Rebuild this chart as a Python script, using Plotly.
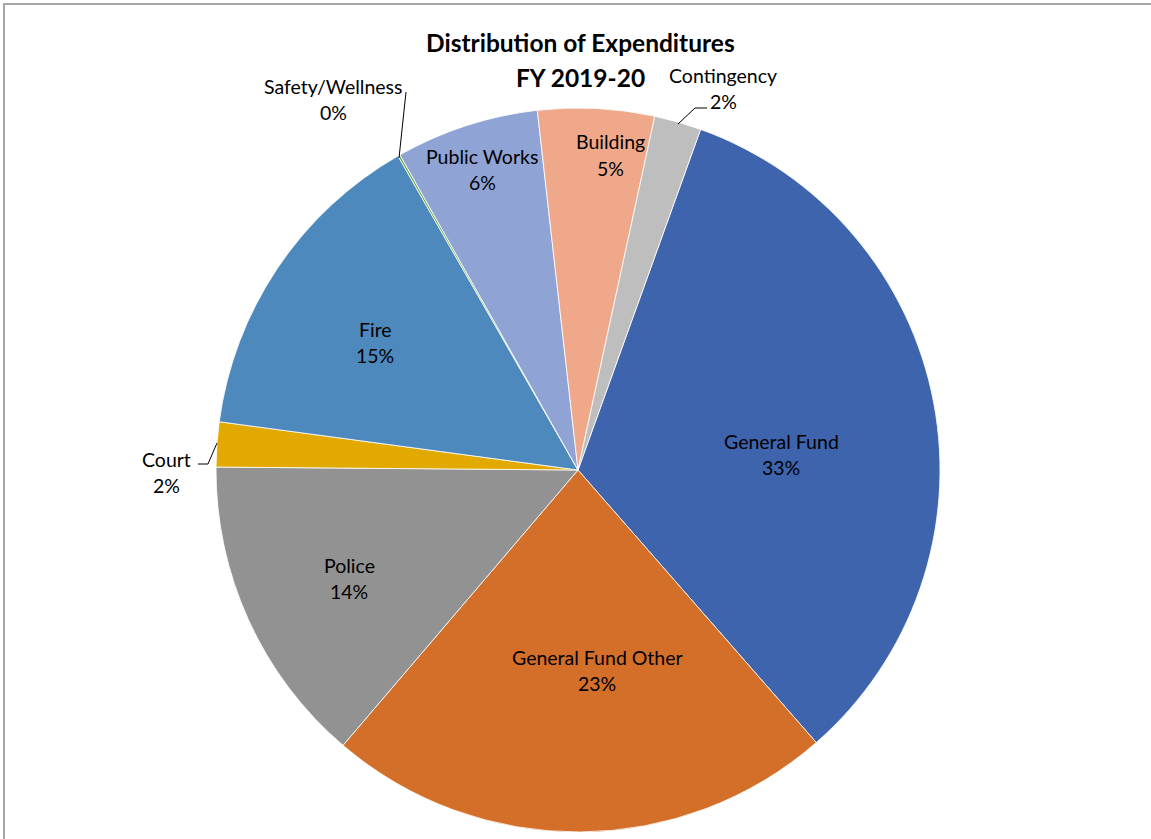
import plotly.graph_objects as go

# ---- data ----
categories = ["General Fund", "General Fund Other", "Police", "Court", "Fire",
              "Safety/Wellness", "Public Works", "Building", "Contingency"]
values = [33.1, 22.7, 13.9, 2.0, 14.6, 0.1, 6.4, 5.2, 2.1]
colors = ["#3D64AD", "#D46F2A", "#929292", "#E2A900", "#4E89BD",
          "#70AD47", "#8FA3D5", "#F0A88A", "#BEBEBE"]
title_lines = ["Distribution of Expenditures", "FY 2019-20"]

W, H = 1151, 839
CX, CY, R = 578, 470, 362  # pie centre/radius in pixels

# label block centres (pixels) for each category, and leader lines for outside labels
label_pos = {
    "General Fund": (781, 454),
    "General Fund Other": (597, 670),
    "Police": (349, 578),
    "Court": (166, 472),
    "Fire": (375, 342),
    "Safety/Wellness": (333, 99),
    "Public Works": (482, 170),
    "Building": (610, 155),
    "Contingency": (723, 88),
}
leaders = {
    "Court": [(198, 464), (208, 464), (217, 443)],
    "Safety/Wellness": [(399, 158), (406, 92), (406, 92)],
    "Contingency": [(678, 124), (695, 108), (707, 108)],
}

def px(x):
    return x / W

def py(y):
    return 1 - y / H

total = sum(values)
pct = [f"{round(v / total * 100):.0f}%" for v in values]

fig = go.Figure()
fig.add_trace(go.Pie(
    labels=categories,
    values=values,
    sort=False,
    direction="clockwise",
    rotation=19.8,
    marker=dict(colors=colors, line=dict(color="white", width=0.8)),
    textinfo="none",
    hoverinfo="label+percent",
    showlegend=False,
    domain=dict(x=[px(CX - R), px(CX + R)], y=[py(CY + R), py(CY - R)]),
))

font_lbl = dict(family="Lato, Open Sans, sans-serif", size=19.5, color="#000000")
annotations = []
for cat, p in zip(categories, pct):
    x, y = label_pos[cat]
    annotations.append(dict(x=px(x), y=py(y - 13), xref="paper", yref="paper",
                            text=cat, showarrow=False, font=font_lbl,
                            xanchor="center", yanchor="middle"))
    annotations.append(dict(x=px(x), y=py(y + 13), xref="paper", yref="paper",
                            text=p, showarrow=False, font=font_lbl,
                            xanchor="center", yanchor="middle"))

font_title = dict(family="Lato, Open Sans, sans-serif", size=24.5, color="#000000")
for i, t in enumerate(title_lines):
    annotations.append(dict(x=px(580), y=py(43 + 34 * i), xref="paper", yref="paper",
                            text=f"<b>{t}</b>", showarrow=False, font=font_title,
                            xanchor="center", yanchor="middle"))

shapes = []
for cat, pts in leaders.items():
    path = "M " + " L ".join(f"{px(x)},{py(y)}" for x, y in pts)
    shapes.append(dict(type="path", path=path, xref="paper", yref="paper",
                       line=dict(color="#000000", width=1)))

# chart-area border (top and left)
shapes.append(dict(type="line", xref="paper", yref="paper",
                   x0=px(3), x1=1, y0=py(4), y1=py(4),
                   line=dict(color="#A6A6A6", width=2)))
shapes.append(dict(type="line", xref="paper", yref="paper",
                   x0=px(4), x1=px(4), y0=py(4), y1=0,
                   line=dict(color="#A6A6A6", width=2)))

fig.update_layout(
    width=W, height=H,
    margin=dict(l=0, r=0, t=0, b=0),
    paper_bgcolor="white",
    plot_bgcolor="white",
    annotations=annotations,
    shapes=shapes,
)

fig.write_html("out.html",
               config={"displayModeBar": False},
               post_script="document.body.style.margin='0';document.body.style.overflow='hidden';")
